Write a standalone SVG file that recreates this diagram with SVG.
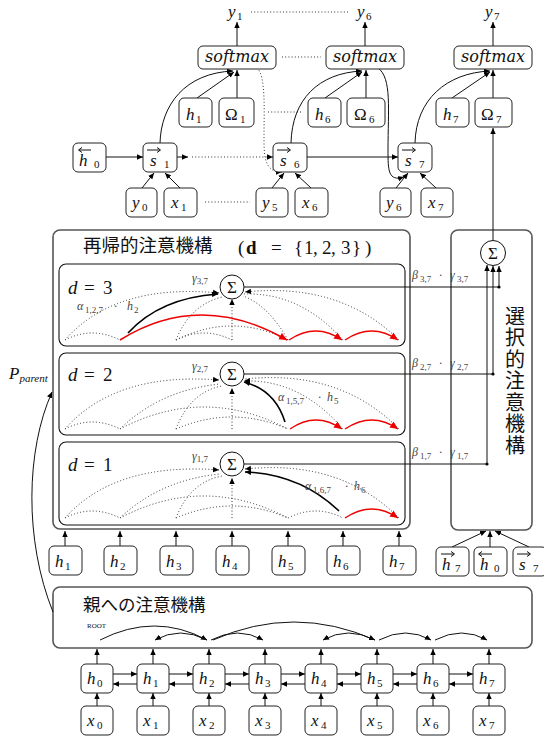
<svg xmlns="http://www.w3.org/2000/svg" width="544" height="738" viewBox="0 0 544 738">
<defs>
<style>
.m{font-family:"Liberation Serif","DejaVu Serif",serif;font-style:italic;fill:#111}
.u{font-family:"Liberation Serif","DejaVu Serif",serif;fill:#111}
.sm{font-family:"DejaVu Serif","Liberation Serif",serif;font-style:italic;fill:#111}
.cjk{font-family:"Noto Sans CJK JP","Noto Sans CJK SC",sans-serif;fill:#111}
.bx{fill:#fff;stroke:#222;stroke-width:1}
.big{fill:none;stroke:#555;stroke-width:1.6}
.lv{fill:none;stroke:#111;stroke-width:1.1}
.ln{fill:none;stroke:#111;stroke-width:1}
.dt{fill:none;stroke:#333;stroke-width:1;stroke-dasharray:1 2.2}
.rd{fill:none;stroke:#e00;stroke-width:1.5}
.bk{fill:none;stroke:#000;stroke-width:1.6}
.lab{font-family:"Liberation Serif","DejaVu Serif",serif;font-style:italic;font-size:12px;fill:#444}
.sb{font-size:9px;font-style:normal}
</style>
<marker id="ah" viewBox="0 0 10 10" refX="10" refY="5" markerWidth="6" markerHeight="6" orient="auto" markerUnits="userSpaceOnUse"><path d="M0,0.5 L10,5 L0,9.5 z" fill="#000"/></marker>
<marker id="ar" viewBox="0 0 10 10" refX="10" refY="5" markerWidth="8" markerHeight="8" orient="auto" markerUnits="userSpaceOnUse"><path d="M0,0.5 L10,5 L0,9.5 z" fill="#e00"/></marker>
</defs>
<rect width="544" height="738" fill="#fff"/>

<g id="recursive">
<rect class="big" x="53" y="230" width="357" height="299" rx="7"/>
<text class="cjk" x="83" y="252" font-size="18.5">再帰的注意機構</text>
<text class="u" y="254" font-size="19"><tspan x="238">(</tspan><tspan x="246" font-weight="bold">d</tspan><tspan x="271">=</tspan><tspan x="294">{</tspan><tspan x="304">1</tspan><tspan x="313">,</tspan><tspan x="322">2</tspan><tspan x="331">,</tspan><tspan x="341">3</tspan><tspan x="352">}</tspan><tspan x="365">)</tspan></text>
</g>
<g id="level3">
<rect class="lv" x="59" y="264" width="346" height="82" rx="7"/>
<text class="m" x="68" y="294" font-size="19">d</text><text class="u" x="84" y="294" font-size="19">=</text><text class="u" x="103" y="294" font-size="19">3</text>
</g>
<g id="level2">
<rect class="lv" x="59" y="353" width="346" height="82" rx="7"/>
<text class="m" x="68" y="381" font-size="19">d</text><text class="u" x="84" y="381" font-size="19">=</text><text class="u" x="103" y="381" font-size="19">2</text>
</g>
<g id="level1">
<rect class="lv" x="59" y="442" width="346" height="83" rx="7"/>
<text class="m" x="68" y="471" font-size="19">d</text><text class="u" x="84" y="471" font-size="19">=</text><text class="u" x="103" y="471" font-size="19">1</text>
</g>
<g id="selective">
<rect class="big" x="451" y="230" width="81" height="300" rx="7"/>
<text class="cjk" x="515" y="306" font-size="20" style="writing-mode:vertical-rl;letter-spacing:1.5px">選択的注意機構</text>
</g>
<g id="parent">
<rect class="big" x="53" y="587" width="479" height="61" rx="7"/>
<text class="cjk" x="83" y="611" font-size="17.5">親への注意機構</text>
<text class="u" x="87" y="628" font-size="7">ROOT</text>
</g>

<g id="connectors">
<path class="ln" d="M237,46V22" marker-end="url(#ah)"/>
<path class="ln" d="M365,46V22" marker-end="url(#ah)"/>
<path class="ln" d="M493,46V22" marker-end="url(#ah)"/>
<path class="dt" d="M251,12H349"/>
<path class="dt" d="M282,57H321"/>
<path class="dt" d="M268,112H303"/>
<path class="dt" d="M205,202H250"/>
<path class="ln" d="M197,98L234,72" marker-end="url(#ah)"/>
<path class="ln" d="M237,98V70" marker-end="url(#ah)"/>
<path class="ln" d="M325,98L362,72" marker-end="url(#ah)"/>
<path class="ln" d="M366,98V70" marker-end="url(#ah)"/>
<path class="ln" d="M452,98L490,72" marker-end="url(#ah)"/>
<path class="ln" d="M493,98V70" marker-end="url(#ah)"/>
<path class="ln" d="M160,143C161,105 185,73 233,71" marker-end="url(#ah)"/>
<path class="ln" d="M291,143C292,100 318,73 362,71" marker-end="url(#ah)"/>
<path class="ln" d="M415,143C416,100 446,73 490,71" marker-end="url(#ah)"/>
<path class="dt" d="M257,68C266,76 264,110 264,140C264,160 266,172 282,172" marker-end="url(#ah)"/>
<path class="ln" d="M378,68C392,78 388,110 388,150C388,170 388,182 404,177" marker-end="url(#ah)"/>
<path class="ln" d="M106,157H143" marker-end="url(#ah)"/>
<path class="ln" d="M177,157H188" marker-end="url(#ah)"/>
<path class="dt" d="M192,157H273" marker-end="url(#ah)"/>
<path class="ln" d="M306,157H398" marker-end="url(#ah)"/>
<path class="ln" d="M142,188L154,173" marker-end="url(#ah)"/>
<path class="ln" d="M180,188L165,173" marker-end="url(#ah)"/>
<path class="ln" d="M272,188L284,173" marker-end="url(#ah)"/>
<path class="ln" d="M311,188L295,173" marker-end="url(#ah)"/>
<path class="ln" d="M396,188L408,173" marker-end="url(#ah)"/>
<path class="ln" d="M436,188L420,173" marker-end="url(#ah)"/>

<path class="dt" d="M65,340Q115,283 219,293" marker-end="url(#ah)"/>
<path class="dt" d="M176,340Q190,305 222,297"/>
<path class="dt" d="M232,340V299" marker-end="url(#ah)"/>
<path class="dt" d="M288,340Q268,305 243,296"/>
<path class="dt" d="M343,340Q300,292 244,294"/>
<path class="dt" d="M399,340Q340,282 245,292" marker-end="url(#ah)"/>
<path class="dt" d="M65,340Q92,326 120,340"/>
<path class="dt" d="M176,340Q204,326 232,340"/>
<path class="dt" d="M176,340Q232,312 288,340"/>
<path class="rd" d="M120,340Q200,290 287,340" marker-end="url(#ar)"/>
<path class="rd" d="M289,340Q316,322 342,340" marker-end="url(#ar)"/>
<path class="rd" d="M345,340Q372,322 398,340" marker-end="url(#ar)"/>
<path class="bk" d="M128,333Q160,298 218,294" marker-end="url(#ah)"/>

<path class="dt" d="M65,429Q115,372 219,380" marker-end="url(#ah)"/>
<path class="dt" d="M120,429Q160,390 220,384"/>
<path class="dt" d="M176,429Q190,392 222,386"/>
<path class="dt" d="M232,429V388" marker-end="url(#ah)"/>
<path class="dt" d="M343,429Q300,379 244,381" marker-end="url(#ah)"/>
<path class="dt" d="M399,429Q340,369 245,379"/>
<path class="dt" d="M65,429Q92,415 120,429"/>
<path class="dt" d="M120,429Q204,385 288,429"/>
<path class="dt" d="M176,429Q232,405 288,429"/>
<path class="rd" d="M290,429Q316,411 342,429" marker-end="url(#ar)"/>
<path class="rd" d="M345,429Q372,411 398,429" marker-end="url(#ar)"/>
<path class="bk" d="M285,422Q275,390 244,382" marker-end="url(#ah)"/>

<path class="dt" d="M65,518Q115,462 219,470" marker-end="url(#ah)"/>
<path class="dt" d="M120,518Q160,480 220,474"/>
<path class="dt" d="M176,518Q190,482 222,476"/>
<path class="dt" d="M232,518V478" marker-end="url(#ah)"/>
<path class="dt" d="M399,518Q340,459 245,469" marker-end="url(#ah)"/>
<path class="dt" d="M65,518Q92,504 120,518"/>
<path class="dt" d="M120,518Q204,474 288,518"/>
<path class="dt" d="M176,518Q232,494 288,518"/>
<path class="dt" d="M288,518Q316,504 343,518"/>
<path class="rd" d="M345,518Q372,500 398,518" marker-end="url(#ar)"/>
<path class="bk" d="M339,511Q300,474 245,472" marker-end="url(#ah)"/>

<path class="ln" d="M244,287H499"/>
<path class="ln" d="M244,374H493"/>
<path class="ln" d="M244,464H487"/>
<circle cx="499" cy="287" r="1.6" fill="#000"/>
<circle cx="493" cy="374" r="1.6" fill="#000"/>
<circle cx="487" cy="464" r="1.6" fill="#000"/>
<path class="ln" d="M499,287V266" marker-end="url(#ah)"/>
<path class="ln" d="M493,374V266" marker-end="url(#ah)"/>
<path class="ln" d="M487,464V265" marker-end="url(#ah)"/>
<path class="ln" d="M493,240V128" marker-end="url(#ah)"/>
<path class="ln" d="M452,547L486,531" marker-end="url(#ah)"/>
<path class="ln" d="M490,547V531" marker-end="url(#ah)"/>
<path class="ln" d="M529,547L495,531" marker-end="url(#ah)"/>
<path class="ln" d="M65,546V531" marker-end="url(#ah)"/>
<path class="ln" d="M120,546V531" marker-end="url(#ah)"/>
<path class="ln" d="M176,546V531" marker-end="url(#ah)"/>
<path class="ln" d="M232,546V531" marker-end="url(#ah)"/>
<path class="ln" d="M288,546V531" marker-end="url(#ah)"/>
<path class="ln" d="M343,546V531" marker-end="url(#ah)"/>
<path class="ln" d="M399,546V531" marker-end="url(#ah)"/>
<path class="ln" d="M53,612C24,540 26,450 52,392" marker-end="url(#ah)"/>

<path class="ln" d="M100,640Q155,612 207,640" marker-end="url(#ah)"/>
<path class="ln" d="M207,640Q180,626 155,640" marker-end="url(#ah)"/>
<path class="ln" d="M211,640Q238,626 263,640" marker-end="url(#ah)"/>
<path class="ln" d="M213,640Q294,604 375,640" marker-end="url(#ah)"/>
<path class="ln" d="M375,640Q348,626 323,640" marker-end="url(#ah)"/>
<path class="ln" d="M379,640Q406,626 431,640" marker-end="url(#ah)"/>
<path class="ln" d="M435,640Q462,626 487,640" marker-end="url(#ah)"/>
<path class="ln" d="M97,664V649" marker-end="url(#ah)"/>
<path class="ln" d="M153,664V649" marker-end="url(#ah)"/>
<path class="ln" d="M209,664V649" marker-end="url(#ah)"/>
<path class="ln" d="M265,664V649" marker-end="url(#ah)"/>
<path class="ln" d="M321,664V649" marker-end="url(#ah)"/>
<path class="ln" d="M377,664V649" marker-end="url(#ah)"/>
<path class="ln" d="M433,664V649" marker-end="url(#ah)"/>
<path class="ln" d="M489,664V649" marker-end="url(#ah)"/>
<path class="ln" d="M97,706V693" marker-end="url(#ah)"/>
<path class="ln" d="M153,706V693" marker-end="url(#ah)"/>
<path class="ln" d="M209,706V693" marker-end="url(#ah)"/>
<path class="ln" d="M265,706V693" marker-end="url(#ah)"/>
<path class="ln" d="M321,706V693" marker-end="url(#ah)"/>
<path class="ln" d="M377,706V693" marker-end="url(#ah)"/>
<path class="ln" d="M433,706V693" marker-end="url(#ah)"/>
<path class="ln" d="M489,706V693" marker-end="url(#ah)"/>
<path class="ln" d="M113,674H137" marker-end="url(#ah)"/>
<path class="ln" d="M169,674H193" marker-end="url(#ah)"/>
<path class="ln" d="M225,674H249" marker-end="url(#ah)"/>
<path class="ln" d="M281,674H305" marker-end="url(#ah)"/>
<path class="ln" d="M337,674H361" marker-end="url(#ah)"/>
<path class="ln" d="M393,674H417" marker-end="url(#ah)"/>
<path class="ln" d="M449,674H473" marker-end="url(#ah)"/>
<path class="ln" d="M137,684H113" marker-end="url(#ah)"/>
<path class="ln" d="M193,684H169" marker-end="url(#ah)"/>
<path class="ln" d="M249,684H225" marker-end="url(#ah)"/>
<path class="ln" d="M305,684H281" marker-end="url(#ah)"/>
<path class="ln" d="M361,684H337" marker-end="url(#ah)"/>
<path class="ln" d="M417,684H393" marker-end="url(#ah)"/>
<path class="ln" d="M473,684H449" marker-end="url(#ah)"/>
</g>

<g id="labels">
<text class="lab" y="310"><tspan x="77">α</tspan><tspan class="sb" x="85" dy="3">1,2,7</tspan><tspan x="114" dy="-3">·</tspan><tspan x="127">h</tspan><tspan class="sb" x="134" dy="3">2</tspan></text>
<text class="lab" y="401"><tspan x="278">α</tspan><tspan class="sb" x="286" dy="3">1,5,7</tspan><tspan x="318" dy="-3">·</tspan><tspan x="327">h</tspan><tspan class="sb" x="334" dy="3">5</tspan></text>
<text class="lab" y="490"><tspan x="305">α</tspan><tspan class="sb" x="313" dy="3">1,6,7</tspan><tspan x="345" dy="-3">·</tspan><tspan x="354">h</tspan><tspan class="sb" x="361" dy="3">6</tspan></text>
<text class="lab" x="192" y="282">γ<tspan class="sb" dy="2">3,7</tspan></text>
<text class="lab" x="192" y="370">γ<tspan class="sb" dy="2">2,7</tspan></text>
<text class="lab" x="192" y="460">γ<tspan class="sb" dy="2">1,7</tspan></text>
<text class="lab" y="279"><tspan x="412">β</tspan><tspan class="sb" x="420" dy="3">3,7</tspan><tspan x="439" dy="-3">·</tspan><tspan x="450">γ</tspan><tspan class="sb" x="457" dy="3">3,7</tspan></text>
<text class="lab" y="367"><tspan x="412">β</tspan><tspan class="sb" x="420" dy="3">2,7</tspan><tspan x="439" dy="-3">·</tspan><tspan x="450">γ</tspan><tspan class="sb" x="457" dy="3">2,7</tspan></text>
<text class="lab" y="456"><tspan x="412">β</tspan><tspan class="sb" x="420" dy="3">1,7</tspan><tspan x="439" dy="-3">·</tspan><tspan x="450">γ</tspan><tspan class="sb" x="457" dy="3">1,7</tspan></text>
<text class="m" x="9" y="379" font-size="17">P<tspan font-size="11" dy="3">parent</tspan></text>
</g>

<g id="sum3"><circle cx="232" cy="287" r="12" fill="#fff" stroke="#111"/><text class="u" x="232" y="293" font-size="17" text-anchor="middle">Σ</text></g>
<g id="sum2"><circle cx="232" cy="374" r="12" fill="#fff" stroke="#111"/><text class="u" x="232" y="380" font-size="17" text-anchor="middle">Σ</text></g>
<g id="sum1"><circle cx="232" cy="464" r="12" fill="#fff" stroke="#111"/><text class="u" x="232" y="470" font-size="17" text-anchor="middle">Σ</text></g>
<g id="sumsel"><circle cx="493" cy="253" r="12.5" fill="#fff" stroke="#111"/><text class="u" x="493" y="259" font-size="17" text-anchor="middle">Σ</text></g>

<g id="y1"><text class="m" x="228" y="17" font-size="17">y</text><text class="u" x="237" y="20" font-size="11">1</text></g>
<g id="y6"><text class="m" x="357" y="17" font-size="17">y</text><text class="u" x="366" y="20" font-size="11">6</text></g>
<g id="y7"><text class="m" x="485" y="17" font-size="17">y</text><text class="u" x="494" y="20" font-size="11">7</text></g>
<g id="softmax1"><rect class="bx" x="198" y="46" width="78" height="23" rx="5"/><text class="sm" x="237" y="62" font-size="16" text-anchor="middle">softmax</text></g>
<g id="softmax6"><rect class="bx" x="326" y="46" width="78" height="23" rx="5"/><text class="sm" x="365" y="62" font-size="16" text-anchor="middle">softmax</text></g>
<g id="softmax7"><rect class="bx" x="454" y="46" width="78" height="23" rx="5"/><text class="sm" x="493" y="62" font-size="16" text-anchor="middle">softmax</text></g>
<g id="h1t"><rect class="bx" x="179" y="98" width="33" height="29" rx="5"/><text class="m" x="186" y="120" font-size="17">h</text><text class="u" x="196" y="123" font-size="11">1</text></g>
<g id="O1"><rect class="bx" x="219" y="98" width="35" height="29" rx="5"/><text class="u" x="225" y="120" font-size="17">Ω</text><text class="u" x="240" y="123" font-size="11">1</text></g>
<g id="h6t"><rect class="bx" x="308" y="98" width="33" height="29" rx="5"/><text class="m" x="315" y="120" font-size="17">h</text><text class="u" x="325" y="123" font-size="11">6</text></g>
<g id="O6"><rect class="bx" x="347" y="98" width="38" height="29" rx="5"/><text class="u" x="354" y="120" font-size="17">Ω</text><text class="u" x="369" y="123" font-size="11">6</text></g>
<g id="h7t"><rect class="bx" x="436" y="98" width="33" height="29" rx="5"/><text class="m" x="443" y="120" font-size="17">h</text><text class="u" x="453" y="123" font-size="11">7</text></g>
<g id="O7"><rect class="bx" x="475" y="98" width="37" height="29" rx="5"/><text class="u" x="481" y="120" font-size="17">Ω</text><text class="u" x="496" y="123" font-size="11">7</text></g>
<g id="hb0"><rect class="bx" x="73" y="143" width="33" height="29" rx="5"/><text class="m" x="79" y="166" font-size="17">h</text><text class="u" x="94" y="168" font-size="11">0</text><path class="ln" d="M91,150H79M82,147.5L78.5,150L82,152.5"/></g>
<g id="s1"><rect class="bx" x="143" y="143" width="34" height="29" rx="5"/><text class="m" x="150" y="166" font-size="17">s</text><text class="u" x="164" y="168" font-size="11">1</text><path class="ln" d="M147,150H160M157,147.5L160.5,150L157,152.5"/></g>
<g id="s6"><rect class="bx" x="273" y="143" width="34" height="29" rx="5"/><text class="m" x="280" y="166" font-size="17">s</text><text class="u" x="294" y="168" font-size="11">6</text><path class="ln" d="M277,150H290M287,147.5L290.5,150L287,152.5"/></g>
<g id="s7"><rect class="bx" x="398" y="143" width="34" height="29" rx="5"/><text class="m" x="405" y="166" font-size="17">s</text><text class="u" x="419" y="168" font-size="11">7</text><path class="ln" d="M402,150H415M412,147.5L415.5,150L412,152.5"/></g>
<g id="y0"><rect class="bx" x="126" y="188" width="31" height="29" rx="5"/><text class="m" x="132" y="208" font-size="17">y</text><text class="u" x="142" y="211" font-size="11">0</text></g>
<g id="x1"><rect class="bx" x="164" y="188" width="33" height="29" rx="5"/><text class="m" x="171" y="208" font-size="17">x</text><text class="u" x="181" y="211" font-size="11">1</text></g>
<g id="y5"><rect class="bx" x="256" y="188" width="32" height="29" rx="5"/><text class="m" x="262" y="208" font-size="17">y</text><text class="u" x="272" y="211" font-size="11">5</text></g>
<g id="x6"><rect class="bx" x="295" y="188" width="33" height="29" rx="5"/><text class="m" x="302" y="208" font-size="17">x</text><text class="u" x="312" y="211" font-size="11">6</text></g>
<g id="y6b"><rect class="bx" x="380" y="188" width="31" height="29" rx="5"/><text class="m" x="386" y="208" font-size="17">y</text><text class="u" x="396" y="211" font-size="11">6</text></g>
<g id="x7"><rect class="bx" x="421" y="188" width="32" height="29" rx="5"/><text class="m" x="428" y="208" font-size="17">x</text><text class="u" x="438" y="211" font-size="11">7</text></g>

<g id="hr1"><rect class="bx" x="49" y="546" width="33" height="29" rx="5"/><text class="m" x="55" y="567" font-size="17">h</text><text class="u" x="65" y="570" font-size="11">1</text></g>
<g id="hr2"><rect class="bx" x="104" y="546" width="33" height="29" rx="5"/><text class="m" x="110" y="567" font-size="17">h</text><text class="u" x="120" y="570" font-size="11">2</text></g>
<g id="hr3"><rect class="bx" x="160" y="546" width="33" height="29" rx="5"/><text class="m" x="166" y="567" font-size="17">h</text><text class="u" x="176" y="570" font-size="11">3</text></g>
<g id="hr4"><rect class="bx" x="216" y="546" width="33" height="29" rx="5"/><text class="m" x="222" y="567" font-size="17">h</text><text class="u" x="232" y="570" font-size="11">4</text></g>
<g id="hr5"><rect class="bx" x="272" y="546" width="33" height="29" rx="5"/><text class="m" x="278" y="567" font-size="17">h</text><text class="u" x="288" y="570" font-size="11">5</text></g>
<g id="hr6"><rect class="bx" x="327" y="546" width="33" height="29" rx="5"/><text class="m" x="333" y="567" font-size="17">h</text><text class="u" x="343" y="570" font-size="11">6</text></g>
<g id="hr7"><rect class="bx" x="383" y="546" width="33" height="29" rx="5"/><text class="m" x="389" y="567" font-size="17">h</text><text class="u" x="399" y="570" font-size="11">7</text></g>
<g id="hf7"><rect class="bx" x="436" y="547" width="33" height="29" rx="5"/><text class="m" x="442" y="570" font-size="17">h</text><text class="u" x="455" y="572" font-size="11">7</text><path class="ln" d="M441,554H454M451,551.5L454.5,554L451,556.5"/></g>
<g id="hb0r"><rect class="bx" x="474" y="547" width="33" height="29" rx="5"/><text class="m" x="480" y="570" font-size="17">h</text><text class="u" x="494" y="572" font-size="11">0</text><path class="ln" d="M492,554H479M482,551.5L478.5,554L482,556.5"/></g>
<g id="s7r"><rect class="bx" x="513" y="547" width="34" height="29" rx="5"/><text class="m" x="519" y="570" font-size="17">s</text><text class="u" x="533" y="572" font-size="11">7</text><path class="ln" d="M517,554H530M527,551.5L530.5,554L527,556.5"/></g>

<g id="bh0"><rect class="bx" x="81" y="664" width="32" height="29" rx="5"/><text class="m" x="87" y="684" font-size="17">h</text><text class="u" x="97" y="687" font-size="11">0</text></g>
<g id="bh1"><rect class="bx" x="137" y="664" width="32" height="29" rx="5"/><text class="m" x="143" y="684" font-size="17">h</text><text class="u" x="153" y="687" font-size="11">1</text></g>
<g id="bh2"><rect class="bx" x="193" y="664" width="32" height="29" rx="5"/><text class="m" x="199" y="684" font-size="17">h</text><text class="u" x="209" y="687" font-size="11">2</text></g>
<g id="bh3"><rect class="bx" x="249" y="664" width="32" height="29" rx="5"/><text class="m" x="255" y="684" font-size="17">h</text><text class="u" x="265" y="687" font-size="11">3</text></g>
<g id="bh4"><rect class="bx" x="305" y="664" width="32" height="29" rx="5"/><text class="m" x="311" y="684" font-size="17">h</text><text class="u" x="321" y="687" font-size="11">4</text></g>
<g id="bh5"><rect class="bx" x="361" y="664" width="32" height="29" rx="5"/><text class="m" x="367" y="684" font-size="17">h</text><text class="u" x="377" y="687" font-size="11">5</text></g>
<g id="bh6"><rect class="bx" x="417" y="664" width="32" height="29" rx="5"/><text class="m" x="423" y="684" font-size="17">h</text><text class="u" x="433" y="687" font-size="11">6</text></g>
<g id="bh7"><rect class="bx" x="473" y="664" width="32" height="29" rx="5"/><text class="m" x="479" y="684" font-size="17">h</text><text class="u" x="489" y="687" font-size="11">7</text></g>
<g id="bx0"><rect class="bx" x="81" y="706" width="32" height="29" rx="5"/><text class="m" x="87" y="726" font-size="17">x</text><text class="u" x="97" y="729" font-size="11">0</text></g>
<g id="bx1"><rect class="bx" x="137" y="706" width="32" height="29" rx="5"/><text class="m" x="143" y="726" font-size="17">x</text><text class="u" x="153" y="729" font-size="11">1</text></g>
<g id="bx2"><rect class="bx" x="193" y="706" width="32" height="29" rx="5"/><text class="m" x="199" y="726" font-size="17">x</text><text class="u" x="209" y="729" font-size="11">2</text></g>
<g id="bx3"><rect class="bx" x="249" y="706" width="32" height="29" rx="5"/><text class="m" x="255" y="726" font-size="17">x</text><text class="u" x="265" y="729" font-size="11">3</text></g>
<g id="bx4"><rect class="bx" x="305" y="706" width="32" height="29" rx="5"/><text class="m" x="311" y="726" font-size="17">x</text><text class="u" x="321" y="729" font-size="11">4</text></g>
<g id="bx5"><rect class="bx" x="361" y="706" width="32" height="29" rx="5"/><text class="m" x="367" y="726" font-size="17">x</text><text class="u" x="377" y="729" font-size="11">5</text></g>
<g id="bx6"><rect class="bx" x="417" y="706" width="32" height="29" rx="5"/><text class="m" x="423" y="726" font-size="17">x</text><text class="u" x="433" y="729" font-size="11">6</text></g>
<g id="bx7"><rect class="bx" x="473" y="706" width="32" height="29" rx="5"/><text class="m" x="479" y="726" font-size="17">x</text><text class="u" x="489" y="729" font-size="11">7</text></g>
</svg>
